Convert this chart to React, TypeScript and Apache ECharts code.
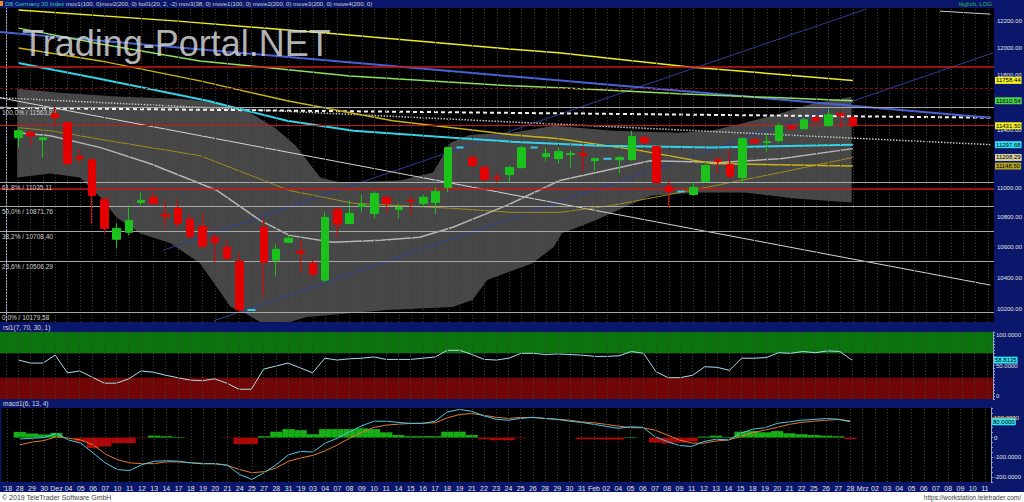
import React, { useEffect, useRef } from "react";
import * as echarts from "echarts";

// ---------- categories (x axis) ----------
const categories = ["'18","28","29","30","Dez","04","05","06","07","10","11","12","13","14","17","18","19","20","21","24","25","27","28","31","'19","03","04","07","08","09","10","11","14","15","16","17","18","19","21","22","23","24","25","26","28","29","30","31","Feb","02","04","05","06","07","08","09","11","12","13","14","15","18","19","20","21","22","25","26","27","28","Mrz","02","03","04","05","06","07","08","09","10","11"];

// ---------- candles (index-aligned with categories) ----------
const opens = [null,11347,11382,11333,11517,11453,11214,11193,10919,10652,10698,10899,10933,10819,10859,10785,10738,10665,10600,10508,10194,10732,10515,10632,10573,10495,10385,10852,10758,10872,10825,10933,10852,10913,10893,10899,11001,11277,11207,11138,11069,11090,11138,11277,11214,11200,11228,11235,11186,11200,11193,11193,11347,11284,11008,10974,10953,11042,11193,11159,11069,11333,11312,11326,11425,11410,11489,11432,11517,11489];
const closes = [null,11396,11361,11347,11489,11166,11200,10946,10725,10725,10778,10913,10893,10805,10758,10672,10606,10632,10528,10194,10194,10502,10586,10659,10560,10424,10798,10752,10825,10886,10960,10893,10865,10906,10933,10974,11277,11277,11152,11056,11062,11138,11277,11277,11235,11249,11235,11221,11200,11200,11207,11354,11312,11035,10974,10974,11001,11152,11180,11076,11340,11312,11319,11432,11410,11474,11467,11510,11503,11431.5];
const lows = [null,11277,11291,11207,11432,11159,11173,10758,10692,10593,10678,10879,10886,10732,10725,10652,10593,10495,10515,10179.58,10194,10276,10411,10626,10430,10404,10372,10665,10752,10832,10792,10825,10792,10812,10865,10819,10967,11277,11138,11035,11035,11035,11131,11277,11180,11166,11138,11104,11117,11200,11097,11186,11305,11028,10865,10974,10946,11035,11097,11069,11028,11305,11249,11312,11396,11410,11453,11425,11418,11425];
const highs = [null,11410,11403,11350,11563.83,11460,11270,11200,10933,10758,10879,10967,10980,10913,10919,10825,10825,10692,10646,10567,10194,10792,10619,10672,10646,10521,10832,10865,10913,10953,10974,10946,10893,10946,10953,11001,11284,11277,11221,11152,11104,11152,11291,11277,11277,11277,11256,11291,11207,11200,11221,11396,11354,11291,11049,10974,11042,11166,11207,11256,11347,11340,11382,11453,11446,11489,11503,11557,11524,11503];
const flatDays = [20, 37, 43, 49, 55];

// ---------- indicator lines: [category index, value] samples ----------
const movYellow = [[1,12284],[14,12200],[27,12102],[41,11990],[45,11963],[55.7,11857],[69,11758.44]];
const movGreen = [[1,12147],[7.7,12028],[15.8,11902],[28,11791],[41.2,11719],[45.1,11704],[54.8,11661],[69,11610.54]];
const movCyan = [[1,11887],[7.7,11769],[16.4,11610],[22.9,11467],[28.3,11396],[36.4,11347],[41.2,11319],[48.4,11291],[57.5,11277],[69,11297.68]];
const bollMid = [[1,11382],[3.6,11361],[7.7,11277],[11.7,11166],[15.8,11028],[17.2,10980],[20.7,10778],[23.1,10678],[26.6,10632],[30.5,10646],[33.7,10665],[36.4,10732],[40.8,10879],[45.1,11049],[52.5,11186],[58.2,11173],[63.1,11200],[69,11270]];
const movOlive = [[1,11418],[3.6,11396],[9.3,11312],[15.8,11221],[23.1,10980],[28.3,10893],[36.4,10859],[41.2,10832],[45.1,10832],[49.4,10879],[56.6,10994],[63.1,11104],[69,11208.29]];
const movDimYellow = [[1,11998],[7.7,11902],[15.8,11755],[22.9,11610],[31.5,11467],[41.2,11368],[45.1,11340],[51.7,11256],[57.5,11166],[69,11148.5]];
const bollUpper = [[0.9,11697],[4.4,11668],[9.3,11639],[14.2,11625],[17.4,11596],[19.9,11524],[21.9,11417],[23.6,11291],[25.6,11069],[27.2,11035],[32.1,11049],[34.8,11104],[36.2,11312],[37.8,11368],[41.2,11382],[44.7,11432],[49.4,11396],[54.8,11382],[57.5,11396],[60.2,11453],[63,11517],[65.7,11589],[68.9,11639]];
const bollLower = [[0.9,11069],[3.6,11097],[6,11069],[7.7,10933],[9,10798],[10.9,10692],[13.4,10626],[15.8,10495],[18.3,10213],[19.3,10181],[20.7,10118],[22.3,10099],[24.5,10150],[31,10194],[36.4,10213],[38,10257],[39.2,10385],[42.9,10495],[44.6,10600],[45.3,10692],[48,10778],[51.6,10913],[52.6,10946],[56.5,10967],[60.2,10967],[64.3,10926],[68.9,10899]];

// ---------- trend lines ----------
const trendBlue = [[-0.5,12117],[80.2,11489]];
const trendWhiteDashed = [[-0.5,11560],[80.2,11489]];
const trendWhiteDotted = [[-0.5,11632],[80.2,11298]];
const trendWhite = [[-0.5,11632],[80.2,10353]];
const channelUpper = [[12.8,10580],[70.1,12292]];
const channelLower = [[16.9,10125],[80.4,11961]];
const trendTopRight = [[76.1,12276],[80.2,12253]];

// ---------- horizontal levels ----------
const fibPct = ["100,0%","61,8%","50,0%","38,2%","23,6%","0,0%"];
const fibValues = [11563.83,11035.11,10871.76,10708.40,10506.29,10179.58];
const redLevels = [11857, 10995];
const darkRedLevels = [11704];
const priceTicks = [10200,10400,10600,10800,11000,11200,11400,11600,11800,12000,12200];

// ---------- RSI ----------
const rsi = [null,59,54,54,67,38,41,31,21,21,28,41,39,34,30,26,25,28,21,11,11,44,49,54,46,38,62,59,61,62,64,60,60,60,62,64,75,75,68,60,59,62,70,70,68,69,68,67,65,65,66,73,70,40,30,30,34,48,47,42,62,62,63,71,70,73,71,74,73,58.8135];
const rsiBands = [70, 30];

// ---------- MACD ----------
const macd = [null,-7,-3,0,22,-12,-28,-78,-128,-162,-167,-137,-120,-117,-120,-128,-133,-132,-140,-187,-212,-178,-137,-87,-70,-73,-28,-3,30,60,83,83,77,72,72,83,130,143,133,110,93,88,97,103,97,92,83,77,67,57,47,55,52,5,-20,-40,-45,-20,-8,-12,22,43,50,72,80,88,92,97,93,80];
const signal = [null,-37,-23,-15,5,-3,-12,-37,-83,-112,-128,-132,-132,-123,-123,-128,-130,-133,-140,-162,-178,-173,-153,-120,-103,-90,-67,-37,-3,27,52,63,68,72,73,75,100,117,122,113,103,97,102,102,97,93,88,80,75,67,58,50,50,38,13,-12,-28,-28,-17,-12,5,25,38,52,67,77,83,88,92,85];
const hist = [null,29,21,16,24,0,-20,-53,-45,-28,-28,-3,10,7,3,0,0,0,-2,-33,-33,7,30,43,38,17,43,43,43,47,43,27,13,7,7,7,30,30,13,-8,-13,-13,-3,0,0,0,0,-8,-8,-10,-10,3,0,-25,-30,-25,-20,5,10,3,30,33,27,33,22,17,13,10,7,-7];

const FONT = "'Liberation Sans', Arial, sans-serif";
const NAVY = "#0b176a";
const AXFS = 6;

const lastOf = (arr: any[]) => {
  const v = arr[arr.length - 1];
  return Array.isArray(v) ? v[1] : v;
};

const tag = (value: number, bg: string, digits: number, fg = "#000", line: any = null) => ({
  silent: true,
  symbol: "none",
  lineStyle: line || { color: "rgba(0,0,0,0)", width: 0 },
  label: {
    show: true, position: "end", distance: 1, formatter: value.toFixed(digits),
    backgroundColor: bg, color: fg, fontSize: AXFS, fontFamily: FONT, padding: [1, 1, 0, 1],
  },
  data: [{ yAxis: value }],
});

const gridLines = (xi: number, yi: number) => ({
  type: "line", xAxisIndex: xi, yAxisIndex: yi, data: [], z: 2, silent: true,
  markLine: {
    silent: true, symbol: "none", label: { show: false },
    lineStyle: { color: "#3d3d3d", type: [1, 2], width: 1 },
    data: categories.map((_, i) => ({ xAxis: i })),
  },
});

const lineSeries = (data: number[][], color: string, width: number, z: number, type: any = "solid", markLine: any = undefined) => ({
  type: "line", xAxisIndex: 1, yAxisIndex: 0, data, showSymbol: false, symbol: "none",
  lineStyle: { color, width, type }, z, silent: true, clip: true, markLine,
});

function buildOption() {
  const candleData = categories.map((_, i) => {
    if (opens[i] == null) return "-";
    const item: any = { value: [opens[i], closes[i], lows[i], highs[i]] };
    if (flatDays.includes(i)) {
      item.itemStyle = { color: "#3ec8e0", color0: "#3ec8e0", borderColor: "#3ec8e0", borderColor0: "#3ec8e0", borderWidth: 2 };
    }
    return item;
  });

  return {
    animation: false,
    backgroundColor: NAVY,
    textStyle: { fontFamily: FONT },
    grid: [
      { left: 0, right: 30, top: 8, height: 314, show: true, backgroundColor: "#000", borderWidth: 0 },
      { left: 0, right: 30, top: 332, height: 67, show: true, backgroundColor: "#000", borderWidth: 0 },
      { left: 0, right: 30, top: 408, height: 74, show: true, backgroundColor: "#000", borderWidth: 0 },
    ],
    xAxis: [
      { type: "category", gridIndex: 0, data: categories, axisLine: { show: false }, axisTick: { show: false }, axisLabel: { show: false }, splitLine: { show: false } },
      { type: "value", gridIndex: 0, min: -0.5, max: 80.5, show: false },
      { type: "category", gridIndex: 1, data: categories, axisLine: { show: false }, axisTick: { show: false }, axisLabel: { show: false }, splitLine: { show: false } },
      {
        type: "category", gridIndex: 2, data: categories, axisLine: { show: false }, axisTick: { show: false },
        axisLabel: { show: true, interval: 0, color: "#e2e2e2", fontSize: 7, margin: 3, fontFamily: FONT }, splitLine: { show: false },
      },
    ],
    yAxis: [
      {
        type: "log", logBase: 10, gridIndex: 0, min: 10118, max: 12300, position: "right",
        axisLabel: { show: false }, splitLine: { show: false }, axisTick: { show: false },
        axisLine: { show: true, lineStyle: { color: "#9aa4c8", width: 1 } },
      },
      {
        type: "value", gridIndex: 1, min: -5, max: 105, interval: 5, position: "right",
        axisLabel: {
          color: "#e2e2e2", fontSize: AXFS, margin: 3, fontFamily: FONT,
          formatter: (v: number) => (v === 100 ? "100.0000" : v === 50 ? "50.0000" : v === 0 ? "0" : ""),
        },
        splitLine: { show: false },
        axisTick: { show: true, length: 2, lineStyle: { color: "#9aa4c8" } },
        axisLine: { show: true, lineStyle: { color: "#9aa4c8" } },
      },
      {
        type: "value", gridIndex: 2, min: -225, max: 150, interval: 25, position: "right",
        axisLabel: {
          color: "#e2e2e2", fontSize: AXFS, margin: 3, fontFamily: FONT,
          formatter: (v: number) => (v === 0 ? "0" : v % 100 === 0 ? v.toFixed(4) : ""),
        },
        splitLine: { show: false },
        axisTick: { show: true, length: 2, lineStyle: { color: "#9aa4c8" } },
        axisLine: { show: true, lineStyle: { color: "#9aa4c8" } },
      },
    ],
    series: [
      // Bollinger band fill
      {
        type: "custom", xAxisIndex: 1, yAxisIndex: 0, z: 1, clip: true, silent: true,
        data: [[0, 11000]],
        renderItem: (_p: any, api: any) => {
          const pts = bollUpper.map((p) => api.coord(p)).concat(bollLower.slice().reverse().map((p) => api.coord(p)));
          return { type: "polygon", shape: { points: pts }, style: { fill: "#474747" } };
        },
      },
      gridLines(1, 0),
      gridLines(2, 1),
      gridLines(3, 2),
      // Fibonacci levels
      {
        type: "line", xAxisIndex: 1, yAxisIndex: 0, data: [], z: 3, silent: true,
        markLine: {
          silent: true, symbol: "none",
          lineStyle: { color: "#a8a8a8", width: 1, type: "solid" },
          label: { show: true, position: "insideStartBottom", color: "#d0d0d0", fontSize: 6.5, distance: 2, fontFamily: FONT },
          data: fibValues.map((v, i) => ({
            yAxis: v,
            label: { formatter: `${fibPct[i]} / ${v.toFixed(2).replace(".", ",")}` },
          })),
        },
      },
      // red levels
      {
        type: "line", xAxisIndex: 1, yAxisIndex: 0, data: [], z: 3, silent: true,
        markLine: {
          silent: true, symbol: "none", label: { show: false },
          data: [
            ...redLevels.map((v) => ({ yAxis: v, lineStyle: { color: "#c81818", width: 1.5, type: "solid" } })),
            ...darkRedLevels.map((v) => ({ yAxis: v, lineStyle: { color: "#7a1212", width: 1, type: [3, 2] } })),
          ],
        },
      },
      // right axis price labels
      {
        type: "line", xAxisIndex: 1, yAxisIndex: 0, data: [], z: 3, silent: true,
        markLine: {
          silent: true, symbol: "none",
          lineStyle: { color: "rgba(0,0,0,0)", width: 0 },
          label: { show: true, position: "end", distance: 3, color: "#e2e2e2", fontSize: AXFS, fontFamily: FONT, formatter: (p: any) => Number(p.value).toFixed(2) },
          data: priceTicks.map((v) => ({ yAxis: v })),
        },
      },
      // trend lines
      lineSeries(channelUpper, "#2c3f9c", 1, 4),
      lineSeries(channelLower, "#2c3f9c", 1, 4),
      lineSeries(trendWhite, "#d4d4d4", 1, 4),
      lineSeries(trendWhiteDotted, "#c4c4c4", 1.5, 4, "dotted"),
      lineSeries(trendWhiteDashed, "#f0f0f0", 2, 4, [4, 3]),
      lineSeries(trendTopRight, "#cfcfcf", 1, 4),
      lineSeries(trendBlue, "#4a62d8", 2, 4),
      // moving averages
      lineSeries(movOlive, "#a08a1e", 1, 4, "solid", tag(lastOf(movOlive), "#d8cfa0", 2)),
      lineSeries(bollMid, "#b4b4b4", 1.5, 4),
      lineSeries(movDimYellow, "#c9b414", 1.5, 4, "solid", tag(lastOf(movDimYellow), "#b4a424", 2)),
      lineSeries(movCyan, "#34d2e6", 2, 4, "solid", tag(lastOf(movCyan), "#30e0f0", 2)),
      lineSeries(movGreen, "#8ee05e", 1.5, 4, "solid", tag(lastOf(movGreen), "#4cd04c", 2)),
      lineSeries(movYellow, "#ecec24", 1.5, 4, "solid", tag(lastOf(movYellow), "#f0f020", 2)),
      // candles
      {
        type: "candlestick", xAxisIndex: 0, yAxisIndex: 0, data: candleData, barWidth: 8, z: 5, silent: true,
        itemStyle: { color: "#1cc21c", color0: "#e40000", borderColor: "#1cc21c", borderColor0: "#e40000", borderWidth: 1 },
        markLine: tag(lastOf(closes), "#f0f020", 2, "#000", { color: "#c81818", width: 1, type: "solid" }),
      },
      // RSI bands
      {
        type: "line", xAxisIndex: 2, yAxisIndex: 1, data: [], z: 1, silent: true,
        markArea: {
          silent: true,
          data: [
            [{ yAxis: rsiBands[0], itemStyle: { color: "#0b740d" } }, { yAxis: 105 }],
            [{ yAxis: -5, itemStyle: { color: "#700606" } }, { yAxis: rsiBands[1] }],
          ],
        },
      },
      {
        type: "line", xAxisIndex: 2, yAxisIndex: 1, data: rsi, showSymbol: false, symbol: "none", z: 4, silent: true,
        lineStyle: { color: "#a6dfe6", width: 1 },
        markLine: tag(lastOf(rsi), "#30e0f0", 4),
      },
      // MACD
      {
        type: "bar", xAxisIndex: 3, yAxisIndex: 2, barWidth: "100%", barGap: "0%", z: 3, silent: true,
        data: hist.map((v) => (v == null ? "-" : { value: v, itemStyle: { color: v >= 0 ? "#14b014" : "#b00808" } })),
      },
      {
        type: "line", xAxisIndex: 3, yAxisIndex: 2, data: signal, showSymbol: false, symbol: "none", z: 4, silent: true,
        lineStyle: { color: "#e27a32", width: 1 },
        markLine: tag(lastOf(signal), "#f08a20", 4),
      },
      {
        type: "line", xAxisIndex: 3, yAxisIndex: 2, data: macd, showSymbol: false, symbol: "none", z: 4, silent: true,
        lineStyle: { color: "#4cc8e8", width: 1 },
        markLine: tag(lastOf(macd), "#30e0f0", 4),
      },
    ],
    graphic: {
      elements: [
        { type: "rect", z: 100, shape: { x: 0, y: 1, width: 3, height: 5 }, style: { fill: "#f08a20" } },
        {
          type: "text", z: 100, x: 5, y: 4,
          style: {
            text: "{a|DB Germany 30 Index} {b|mov1(100, 0)mov2(200, 0) boll1(20, 2, -2) mov3(38, 0) move1(100, 0) move2(200, 0) move3(200, 0) move4(200, 0)}",
            verticalAlign: "middle", fontSize: 6, fontFamily: FONT, fill: "#d0d0d0",
            rich: { a: { fill: "#46c2b4", fontSize: 6, fontFamily: FONT }, b: { fill: "#d4d4d4", fontSize: 6, fontFamily: FONT } },
          },
        },
        { type: "text", z: 100, x: 992, y: 4, style: { text: "täglich, LOG", align: "right", verticalAlign: "middle", fontSize: 6, fontFamily: FONT, fill: "#22b84a" } },
        { type: "text", z: 100, x: 3, y: 327, style: { text: "rsi1(7, 70, 30, 1)", verticalAlign: "middle", fontSize: 6.5, fontFamily: FONT, fill: "#d8d8d8" } },
        { type: "text", z: 100, x: 3, y: 403.5, style: { text: "macd1(6, 13, 4)", verticalAlign: "middle", fontSize: 6.5, fontFamily: FONT, fill: "#d8d8d8" } },
        {
          type: "text", z: 100, x: 22, y: 43.5,
          style: { text: "Trading-Portal.NET", verticalAlign: "middle", fontSize: 36, fontFamily: FONT, fill: "rgba(212,212,212,0.85)" },
        },
        { type: "rect", z: 100, shape: { x: 0, y: 492, width: 1024, height: 10 }, style: { fill: "#ffffff" } },
        { type: "text", z: 101, x: 2, y: 497, style: { text: "© 2019 TeleTrader Software GmbH", verticalAlign: "middle", fontSize: 7, fontFamily: FONT, fill: "#444" } },
        { type: "text", z: 101, x: 1021, y: 497, style: { text: "https://workstation.teletrader.com/", align: "right", verticalAlign: "middle", fontSize: 6.5, fontFamily: FONT, fill: "#444" } },
      ],
    },
  };
}

export default function App() {
  const ref = useRef<HTMLDivElement>(null);
  useEffect(() => {
    if (!ref.current) return;
    const chart = echarts.init(ref.current, null, { renderer: "svg" });
    chart.setOption(buildOption() as any);
    return () => chart.dispose();
  }, []);
  return <div ref={ref} style={{ position: "fixed", left: 0, top: 0, width: 1024, height: 502 }} />;
}
